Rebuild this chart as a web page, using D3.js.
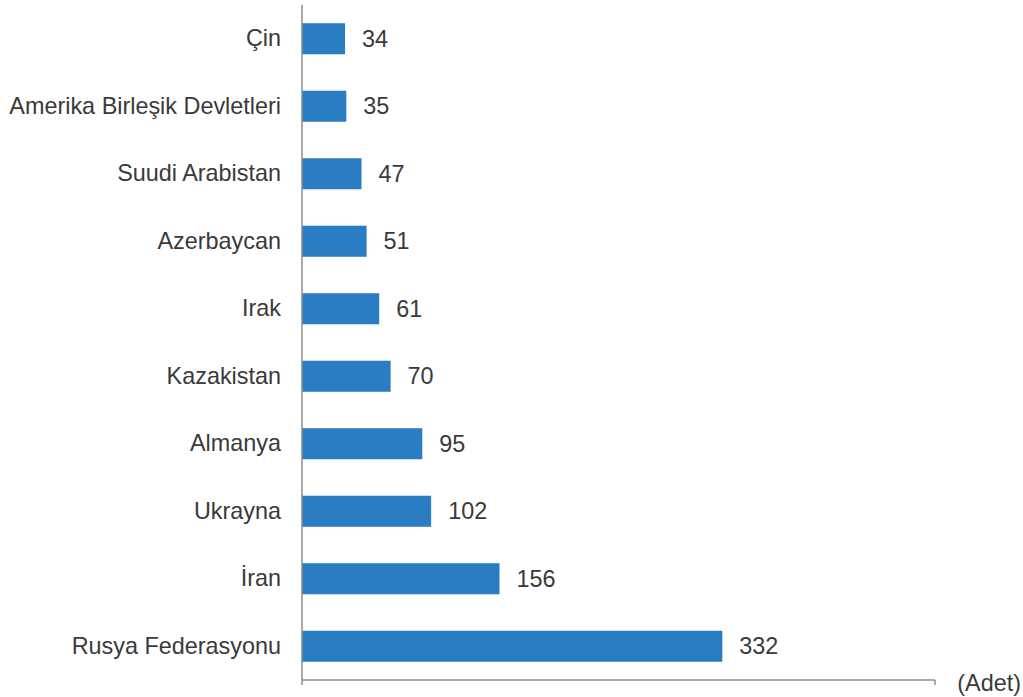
<!DOCTYPE html>
<html>
<head>
<meta charset="utf-8">
<script src="https://cdn.jsdelivr.net/npm/d3@7"></script>
<style>
  html, body { margin: 0; padding: 0; background: #ffffff; }
  svg { display: block; }
  text { font-family: "Liberation Sans", Arial, sans-serif; fill: #3a3a3a; }
</style>
</head>
<body>
<svg id="chart" width="1023" height="697"></svg>
<script>
// Countries, top to bottom
const countries = [
  "Çin",
  "Amerika Birleşik Devletleri",
  "Suudi Arabistan",
  "Azerbaycan",
  "Irak",
  "Kazakistan",
  "Almanya",
  "Ukrayna",
  "İran",
  "Rusya Federasyonu"
];
// Count per country
const counts = [34, 35, 47, 51, 61, 70, 95, 102, 156, 332];
const xMax = 500;
const unitLabel = "(Adet)";

const svg = d3.select("#chart");
const plotLeft = 302, plotRight = 935, plotTop = 5, plotBottom = 680;
const fontSize = 23.4;

const x = d3.scaleLinear().domain([0, xMax]).range([plotLeft, plotRight]);
const y = d3.scaleBand().domain(countries).range([plotTop, plotBottom]).paddingInner(0.54).paddingOuter(0.27);

const data = countries.map((c, i) => ({ country: c, value: counts[i] }));

// bars
svg.append("g").selectAll("rect").data(data).join("rect")
  .attr("x", x(0))
  .attr("y", d => y(d.country))
  .attr("width", d => x(d.value) - x(0))
  .attr("height", y.bandwidth())
  .attr("fill", "#2a7dc2");

// value labels
svg.append("g").selectAll("text").data(data).join("text")
  .attr("x", d => x(d.value) + 17)
  .attr("y", d => y(d.country) + y.bandwidth() / 2)
  .attr("dy", "0.35em")
  .attr("font-size", fontSize)
  .text(d => d.value);

// category axis (no ticks)
const yAxis = svg.append("g")
  .attr("transform", `translate(${plotLeft},0)`)
  .call(d3.axisLeft(y).tickSize(0).tickPadding(21));
yAxis.select(".domain").remove();
yAxis.selectAll("text")
  .attr("font-size", fontSize)
  .style("font-family", '"Liberation Sans", Arial, sans-serif')
  .attr("fill", "#3a3a3a");
svg.append("line")
  .attr("x1", plotLeft).attr("x2", plotLeft)
  .attr("y1", plotTop).attr("y2", plotBottom + 5)
  .attr("stroke", "#8c8c8c").attr("stroke-width", 1.5);

// value axis: baseline with end tick only
svg.append("line")
  .attr("x1", plotLeft).attr("x2", x(xMax))
  .attr("y1", plotBottom).attr("y2", plotBottom)
  .attr("stroke", "#8c8c8c").attr("stroke-width", 1.5);
svg.append("line")
  .attr("x1", x(xMax)).attr("x2", x(xMax))
  .attr("y1", plotBottom).attr("y2", plotBottom + 5)
  .attr("stroke", "#8c8c8c").attr("stroke-width", 1.5);

svg.append("text")
  .attr("x", 1021).attr("y", plotBottom + 3)
  .attr("dy", "0.35em")
  .attr("text-anchor", "end")
  .attr("font-size", fontSize)
  .text(unitLabel);
</script>
</body>
</html>
